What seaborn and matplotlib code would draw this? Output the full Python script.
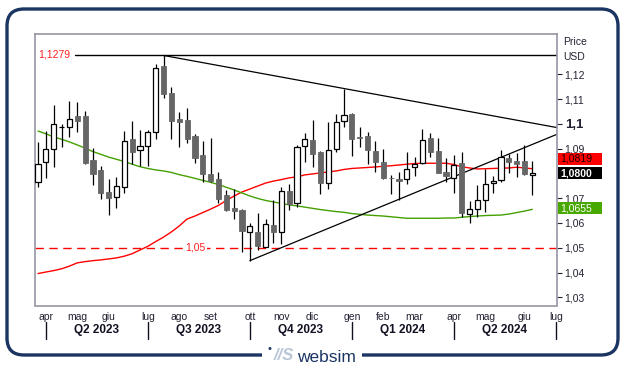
import numpy as np
import pandas as pd
import seaborn as sns
import matplotlib.pyplot as plt
import matplotlib.dates as mdates
from matplotlib.patches import Rectangle, FancyBboxPatch

# weekly EUR/USD candles (Monday of each week)
weeks = pd.date_range("2023-03-27", periods=64, freq="W-MON")

opens = [1.0764, 1.0845, 1.0897, 1.0986, 1.0986, 1.1032, 1.1032, 1.0854, 1.0814, 1.0725,
         1.0706, 1.0747, 1.0939, 1.0893, 1.0909, 1.0966, 1.1233, 1.1124, 1.1018, 1.1015,
         1.0951, 1.0873, 1.0798, 1.0776, 1.0713, 1.0660, 1.0652, 1.0565, 1.0564, 1.0504,
         1.0592, 1.0565, 1.0729, 1.0682, 1.0909, 1.0935, 1.0886, 1.0760, 1.0900, 1.1013,
         1.1040, 1.0946, 1.0951, 1.0890, 1.0846, 1.0783, 1.0777, 1.0776, 1.0825, 1.0841,
         1.0942, 1.0890, 1.0806, 1.0783, 1.0841, 1.0635, 1.0655, 1.0691, 1.0760, 1.0773,
         1.0861, 1.0850, 1.0850, 1.0792]
closes = [1.0837, 1.0897, 1.0998, 1.0987, 1.1018, 1.1013, 1.0843, 1.0799, 1.0722, 1.0702,
          1.0749, 1.0931, 1.0888, 1.0909, 1.0967, 1.1224, 1.1119, 1.1013, 1.1006, 1.0940,
          1.0864, 1.0799, 1.0771, 1.0698, 1.0652, 1.0650, 1.0568, 1.0586, 1.0507, 1.0596,
          1.0564, 1.0728, 1.0677, 1.0905, 1.0938, 1.0880, 1.0760, 1.0894, 1.1006, 1.1034,
          1.0938, 1.0942, 1.0896, 1.0847, 1.0783, 1.0780, 1.0771, 1.0818, 1.0837, 1.0933,
          1.0885, 1.0803, 1.0791, 1.0833, 1.0642, 1.0655, 1.0691, 1.0756, 1.0769, 1.0868,
          1.0845, 1.0839, 1.0799, 1.0800]
highs = [1.0925, 1.0971, 1.1076, 1.0999, 1.1092, 1.1089, 1.1052, 1.0901, 1.0830, 1.0777,
         1.0784, 1.0971, 1.1013, 1.0975, 1.0975, 1.1242, 1.1276, 1.1147, 1.1049, 1.1063,
         1.0959, 1.0931, 1.0942, 1.0807, 1.0733, 1.0736, 1.0655, 1.0600, 1.0640, 1.0616,
         1.0693, 1.0747, 1.0757, 1.0913, 1.0962, 1.1015, 1.0890, 1.1007, 1.1040, 1.1139,
         1.1045, 1.0989, 1.0967, 1.0931, 1.0899, 1.0794, 1.0804, 1.0886, 1.0866, 1.0979,
         1.0963, 1.0943, 1.0861, 1.0873, 1.0885, 1.0689, 1.0753, 1.0816, 1.0790, 1.0894,
         1.0880, 1.0882, 1.0915, 1.0850]
lows = [1.0744, 1.0783, 1.0827, 1.0905, 1.0946, 1.0968, 1.0840, 1.0753, 1.0695, 1.0634,
        1.0662, 1.0722, 1.0838, 1.0830, 1.0830, 1.0940, 1.1103, 1.0940, 1.0908, 1.0921,
        1.0841, 1.0767, 1.0767, 1.0682, 1.0648, 1.0615, 1.0484, 1.0448, 1.0491, 1.0502,
        1.0520, 1.0514, 1.0654, 1.0663, 1.0847, 1.0825, 1.0717, 1.0738, 1.0888, 1.0989,
        1.0870, 1.0908, 1.0839, 1.0807, 1.0776, 1.0717, 1.0693, 1.0757, 1.0791, 1.0837,
        1.0868, 1.0800, 1.0767, 1.0722, 1.0625, 1.0599, 1.0623, 1.0646, 1.0720, 1.0764,
        1.0800, 1.0784, 1.0795, 1.0713]

# moving averages
ma_red = [1.0396, 1.0402, 1.0408, 1.0415, 1.0426, 1.0439, 1.0444, 1.0448, 1.0451, 1.0455,
          1.0459, 1.0466, 1.0476, 1.0491, 1.0506, 1.0525, 1.0543, 1.0564, 1.0588, 1.0616,
          1.0628, 1.0642, 1.0656, 1.0671, 1.0691, 1.0709, 1.0725, 1.0737, 1.0749, 1.0761,
          1.0769, 1.0775, 1.0782, 1.0786, 1.0794, 1.0798, 1.0802, 1.0806, 1.0810, 1.0816,
          1.0820, 1.0822, 1.0824, 1.0826, 1.0829, 1.0831, 1.0834, 1.0837, 1.0840, 1.0841,
          1.0841, 1.0841, 1.0841, 1.0836, 1.0827, 1.0822, 1.0818, 1.0819, 1.0820, 1.0821,
          1.0822, 1.0825, 1.0822, 1.0819]
ma_green = [1.0971, 1.0960, 1.0947, 1.0938, 1.0927, 1.0915, 1.0902, 1.0888, 1.0877, 1.0866,
            1.0857, 1.0848, 1.0837, 1.0827, 1.0820, 1.0814, 1.0810, 1.0804, 1.0795, 1.0788,
            1.0780, 1.0772, 1.0764, 1.0755, 1.0744, 1.0733, 1.0721, 1.0709, 1.0699, 1.0691,
            1.0685, 1.0679, 1.0673, 1.0669, 1.0664, 1.0659, 1.0654, 1.0650, 1.0646, 1.0643,
            1.0638, 1.0635, 1.0632, 1.0630, 1.0628, 1.0625, 1.0622, 1.0619, 1.0619, 1.0619,
            1.0619, 1.0619, 1.0620, 1.0620, 1.0623, 1.0626, 1.0628, 1.0630, 1.0631, 1.0632,
            1.0636, 1.0642, 1.0648, 1.0655]

month_names = ["apr", "mag", "giu", "lug", "ago", "set", "ott", "nov", "dic",
               "gen", "feb", "mar", "apr", "mag", "giu", "lug"]
quarter_names = ["Q2 2023", "Q3 2023", "Q4 2023", "Q1 2024", "Q2 2024"]
yticks = [1.03, 1.04, 1.05, 1.06, 1.07, 1.08, 1.09, 1.10, 1.11, 1.12]

resistance = 1.1279
support = 1.05
upper_tl_dates = ["2023-07-17", "2024-07-02"]
upper_tl_vals = [1.1276, 1.0985]
lower_tl_dates = ["2023-10-02", "2024-07-02"]
lower_tl_vals = [1.0448, 1.0958]

last_vals = [("1,0819", "#ff0000", "#200000"), ("1,0800", "#000000", "white"),
             ("1,0655", "#48a800", "white")]

W, H = 631, 371
sns.set_style("white")
plt.rcParams["font.family"] = ["Liberation Sans", "DejaVu Sans"]

fig = plt.figure(figsize=(W / 100, H / 100), dpi=100)
fig.patch.set_facecolor("white")
ax = fig.add_axes([35 / W, 1 - 305.5 / H, 522 / W, 271.5 / H])

x = mdates.date2num(weeks)
df = pd.DataFrame({"x": x, "open": opens, "close": closes, "high": highs, "low": lows,
                   "ma_red": ma_red, "ma_green": ma_green})

sns.lineplot(data=df, x="x", y="ma_red", color="#ff0000", lw=1.0, ax=ax, zorder=2)
sns.lineplot(data=df, x="x", y="ma_green", color="#44a000", lw=1.0, ax=ax, zorder=2)

# candles
ax.vlines(df["x"], df["low"], df["high"], color="black", lw=0.9, zorder=3)
up = df["close"] >= df["open"]
body = np.maximum((df["close"] - df["open"]).abs(), 0.00018)
bottom = np.minimum(df["open"], df["close"])
ax.bar(df["x"][up], body[up], bottom=bottom[up], width=4.6, color="white",
       edgecolor="black", linewidth=0.9, zorder=4)
ax.bar(df["x"][~up], body[~up], bottom=bottom[~up], width=4.6, color="#666666",
       edgecolor="#666666", linewidth=0.6, zorder=4)

# trend lines and levels
xl = (mdates.date2num(pd.Timestamp("2023-03-24 07:30")), mdates.date2num(pd.Timestamp("2024-07-02")))
res_start = mdates.date2num(pd.Timestamp("2023-04-29"))
ax.plot([res_start, xl[1]], [resistance, resistance], color="black", lw=1.0, zorder=2)
ax.text(res_start - 4, resistance, "1,1279", color="#ff2020", fontsize=7.5,
        ha="right", va="center")
ax.plot(mdates.date2num(pd.to_datetime(upper_tl_dates)), upper_tl_vals, color="black", lw=0.9, zorder=2)
ax.plot(mdates.date2num(pd.to_datetime(lower_tl_dates)), lower_tl_vals, color="black", lw=0.9, zorder=2)
ax.axhline(support, color="#ff0000", lw=1.0, dashes=(6, 4), zorder=1)
ax.text(mdates.date2num(pd.Timestamp("2023-08-14")), support, "1,05", color="#ff2020",
        fontsize=7.5, ha="center", va="center",
        bbox=dict(facecolor="white", edgecolor="none", pad=1.5), zorder=2)

ax.set_xlim(*xl)
ax.set_ylim(1.0267, 1.13626)
ax.set_xlabel("")
ax.set_ylabel("")

# y axis on the right; 1,08 sits under the last-value boxes
ax.yaxis.tick_right()
ax.set_yticks(yticks)
ax.set_yticklabels(["" if abs(v - 1.08) < 1e-9 else ("%g" % v).replace(".", ",") for v in yticks])
ax.tick_params(axis="y", direction="out", length=3.5, width=0.8, colors="#222233",
               labelsize=7.5, pad=2)
for lab, v in zip(ax.get_yticklabels(), yticks):
    if abs(v - 1.10) < 1e-9:
        lab.set_fontweight("bold")
        lab.set_fontsize(9.5)

# month ticks at the week holding the first trading day of each month
month_starts = pd.date_range("2023-04-01", "2024-07-01", freq="MS")
first_bd = [pd.offsets.BDay().rollforward(m) for m in month_starts]
month_pos = [mdates.date2num(d - pd.Timedelta(days=d.weekday())) for d in first_bd]
ax.set_xticks(month_pos)
ax.set_xticklabels(month_names)
ax.tick_params(axis="x", direction="out", length=3, width=0.8, colors="#222233",
               labelsize=7.5, pad=1.5)

q_pos = month_pos[::3]
for i, q in enumerate(quarter_names):
    ax.text((q_pos[i] + q_pos[i + 1]) / 2, -0.092, q, transform=ax.get_xaxis_transform(),
            ha="center", va="center", fontsize=8.5, fontweight="bold", color="#111122")
for p in q_pos:
    ax.plot([p, p], [-0.062, -0.125], transform=ax.get_xaxis_transform(), color="#111122",
            lw=1.0, clip_on=False)

for s in ax.spines.values():
    s.set_color("#9696a6")
    s.set_linewidth(1.2)

fig.text(563 / W, 1 - 41.7 / H, "Price", fontsize=7.5, color="#222233", va="center")
fig.text(563 / W, 1 - 57 / H, "USD", fontsize=7.5, color="#222233", va="center")

# last value boxes
for (txt, bg, fg), yc in zip(last_vals, [158.7, 173.2, 208.3]):
    fig.add_artist(Rectangle((558 / W, 1 - (yc + 6) / H), 44 / W, 12 / H,
                             transform=fig.transFigure, facecolor=bg, edgecolor="none", zorder=5))
    fig.text(560 / W, 1 - yc / H, txt, fontsize=7.5, color=fg, va="center", zorder=6,
             fontweight="bold" if bg == "#000000" else "normal")

# outer rounded frame with logo
fig.add_artist(FancyBboxPatch((0.07, 0.16), 6.11, 3.46,
                              boxstyle="round,pad=0,rounding_size=0.17",
                              transform=fig.dpi_scale_trans, fill=False,
                              edgecolor="#1b3563", linewidth=2.4, zorder=1))
fig.add_artist(Rectangle((262 / W, 0), 100 / W, 28 / H, transform=fig.transFigure,
                         facecolor="white", edgecolor="none", zorder=2))
fig.text(270 / W, 1 - 349 / H, "\u2022", fontsize=8, color="#1b3563", ha="center",
         va="center", zorder=3)
fig.text(284 / W, 1 - 356 / H, "//S", fontsize=12, color="#b9c6d8", fontstyle="italic",
         fontweight="bold", ha="center", va="center", zorder=3)
fig.text(326 / W, 1 - 357 / H, "websim", fontsize=12.5, color="#1b3563", ha="center",
         va="center", zorder=3)

fig.savefig("out.png", dpi=100)
